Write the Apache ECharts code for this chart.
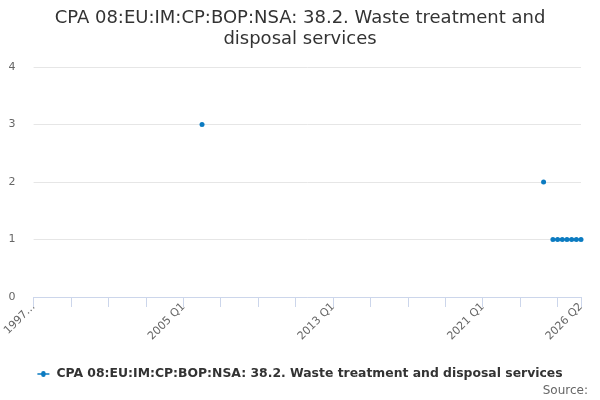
<!DOCTYPE html>
<html><head><meta charset="utf-8">
<script src="https://cdn.jsdelivr.net/npm/echarts@6/dist/echarts.min.js"></script>
<style>html,body{margin:0;padding:0;background:#fff}#c{width:600px;height:400px}</style>
</head><body><div id="c"></div>
<script>
const titleText = "CPA 08:EU:IM:CP:BOP:NSA: 38.2. Waste treatment and\ndisposal services";
const seriesName = "CPA 08:EU:IM:CP:BOP:NSA: 38.2. Waste treatment and disposal services";
const startYear = 1997, endYear = 2026, endQuarter = 2;
const categories = [];
for (let y = startYear; y <= endYear; y++) {
  for (let q = 1; q <= 4; q++) {
    if (y === endYear && q > endQuarter) break;
    categories.push(y + " Q" + q);
  }
}
// observed values (quarter label -> value)
const obsPeriods = ["2006 Q1", "2024 Q2", "2024 Q4", "2025 Q1", "2025 Q2", "2025 Q3", "2025 Q4", "2026 Q1", "2026 Q2"];
const obsValues  = [3, 2, 1, 1, 1, 1, 1, 1, 1];
const values = categories.map(c => {
  const i = obsPeriods.indexOf(c);
  return i >= 0 ? obsValues[i] : null;
});
const last = categories.length - 1;
const color = "#0b7bc1";
const font = "DejaVu Sans";

const chart = echarts.init(document.getElementById('c'));
chart.setOption({
  animation: false,
  textStyle: { fontFamily: font },
  title: {
    text: titleText,
    left: 'center', top: 3,
    textStyle: { fontFamily: font, fontSize: 18, fontWeight: 'normal', color: '#333', lineHeight: 21 }
  },
  legend: {
    bottom: 15, left: 'center',
    icon: 'path://M0,4L5,4A3,3 0 1 1 11,4L16,4L16,6L11,6A3,3 0 1 1 5,6L0,6Z',
    itemWidth: 16, itemHeight: 6, itemGap: 5,
    textStyle: { fontFamily: font, fontSize: 12.4, fontWeight: 'bold', color: '#333' }
  },
  graphic: [{
    type: 'text', right: 12, bottom: 3,
    style: { text: 'Source:', fontFamily: font, fontSize: 12, fill: '#666' }
  }],
  grid: { left: 33, right: 19, top: 67, bottom: 103, containLabel: false },
  xAxis: {
    type: 'category', data: categories, boundaryGap: false,
    axisLine: { lineStyle: { color: '#ccd6eb' } },
    axisTick: { length: 10, lineStyle: { color: '#ccd6eb' },
      interval: (i) => i % 8 === 0 || i === last },
    axisLabel: {
      rotate: 45, color: '#666', fontSize: 11, fontFamily: font, margin: 8,
      interval: (i) => i % 32 === 0 || i === last,
      formatter: (v, i) => i === 0 ? "1997…" : v
    },
    splitLine: { show: false }
  },
  yAxis: {
    type: 'value', min: 0, max: 4, interval: 1,
    axisLabel: { color: '#666', fontSize: 11, fontFamily: font, margin: 18 },
    axisLine: { show: false }, axisTick: { show: false },
    splitLine: { lineStyle: { color: '#e6e6e6' } }
  },
  series: [{
    name: seriesName, type: 'line', data: values,
    connectNulls: false,
    symbol: 'circle', symbolSize: 5, showAllSymbol: true,
    itemStyle: { color: color },
    lineStyle: { color: color, width: 2 }
  }]
});
</script></body></html>
